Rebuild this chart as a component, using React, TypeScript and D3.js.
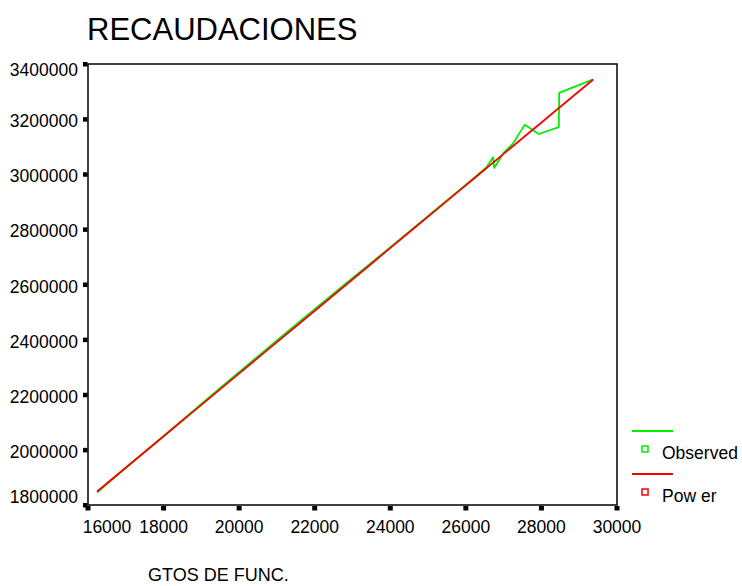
import React from "react";
import * as d3 from "d3";

// GTOS DE FUNC. (x) for each observation, in data order
const gastos = [
  16240, 17100, 18050, 19000, 19900, 20800, 21700, 22600, 23500, 24100,
  24700, 25200, 25700, 26200, 26550, 26720, 26750, 27000, 27250, 27560,
  27930, 28460, 28470, 29370,
];
// Observed RECAUDACIONES
const observed = [
  1845000, 1946000, 2056000, 2167000, 2271000, 2374000, 2477000, 2578000,
  2679000, 2746000, 2814000, 2871000, 2928000, 2985000, 3026000, 3062000,
  3023000, 3078000, 3112000, 3180000, 3146000, 3171000, 3295000, 3344000,
];
// Power model estimates at the same x values
const power = [
  1849000, 1946800, 2055000, 2163200, 2265600, 2368100, 2470500, 2573000,
  2675500, 2743800, 2812100, 2869000, 2926000, 2982900, 3022700, 3042000,
  3045400, 3073900, 3102400, 3137700, 3179800, 3240200, 3241300, 3343800,
];
const xTicks = [16000, 18000, 20000, 22000, 24000, 26000, 28000, 30000];
const yTicks = [1800000, 2000000, 2200000, 2400000, 2600000, 2800000, 3000000, 3200000, 3400000];
const seriesNames = ["Observed", "Pow er"];
const seriesColors = ["#00ee00", "#ff0000"];

const W = 742;
const H = 586;
const plot = { left: 88, right: 617, top: 64, bottom: 505 };
const font = "Arial, 'Liberation Sans', sans-serif";

export default function App() {
  const x = d3.scaleLinear().domain([16000, 30000]).range([plot.left, plot.right]);
  const y = d3.scaleLinear().domain([1800000, 3400000]).range([plot.bottom, plot.top]);

  const line = d3
    .line<[number, number]>()
    .x((d) => x(d[0]))
    .y((d) => y(d[1]));

  const obsPts = gastos.map((g, i) => [g, observed[i]] as [number, number]);
  const powPts = gastos.map((g, i) => [g, power[i]] as [number, number]);

  return (
    <svg
      width={W}
      height={H}
      style={{ position: "absolute", left: 0, top: 0, background: "#fff" }}
      fontFamily={font}
    >
      <rect x={0} y={0} width={W} height={H} fill="#fff" />
      <text x={87} y={40} fontSize={31} fill="#000">
        RECAUDACIONES
      </text>

      {/* frame */}
      <rect
        x={plot.left}
        y={plot.top}
        width={plot.right - plot.left}
        height={plot.bottom - plot.top}
        fill="none"
        stroke="#111"
        strokeWidth={1.6}
      />

      {/* y axis ticks and labels */}
      {yTicks.map((t) => {
        const py = y(t);
        const ly = Math.min(497, Math.max(70, py + 2));
        return (
          <g key={"y" + t}>
            <rect x={plot.left - 5} y={py - 2} width={4.5} height={4.5} fill="#000" />
            <text
              x={78}
              y={ly}
              fontSize={17.5}
              textAnchor="end"
              dominantBaseline="central"
              fill="#000"
            >
              {t}
            </text>
          </g>
        );
      })}

      {/* x axis ticks and labels */}
      {xTicks.map((t) => {
        const px = x(t);
        const lx = Math.max(107, px);
        return (
          <g key={"x" + t}>
            <rect x={px - 2.5} y={plot.bottom + 1} width={5} height={4.5} fill="#000" />
            <text x={lx} y={527} fontSize={17.5} textAnchor="middle" dominantBaseline="central" fill="#000">
              {t}
            </text>
          </g>
        );
      })}

      {/* series */}
      <path d={line(obsPts) ?? ""} fill="none" stroke={seriesColors[0]} strokeWidth={1.8} strokeLinejoin="round" />
      <path d={line(powPts) ?? ""} fill="none" stroke={seriesColors[1]} strokeWidth={1.8} strokeLinejoin="round" />

      {/* legend */}
      {seriesNames.map((name, i) => {
        const top = 431 + i * 43;
        return (
          <g key={name}>
            <line x1={632} x2={673} y1={top} y2={top} stroke={seriesColors[i]} strokeWidth={1.8} />
            <rect
              x={642}
              y={top + 15}
              width={6}
              height={6}
              fill="#fff"
              stroke={seriesColors[i]}
              strokeWidth={1.5}
            />
            <text x={662} y={top + 28} fontSize={17.5} fill="#000">
              {name}
            </text>
          </g>
        );
      })}

      <text x={148} y={581} fontSize={18} fill="#000">
        GTOS DE FUNC.
      </text>
    </svg>
  );
}
